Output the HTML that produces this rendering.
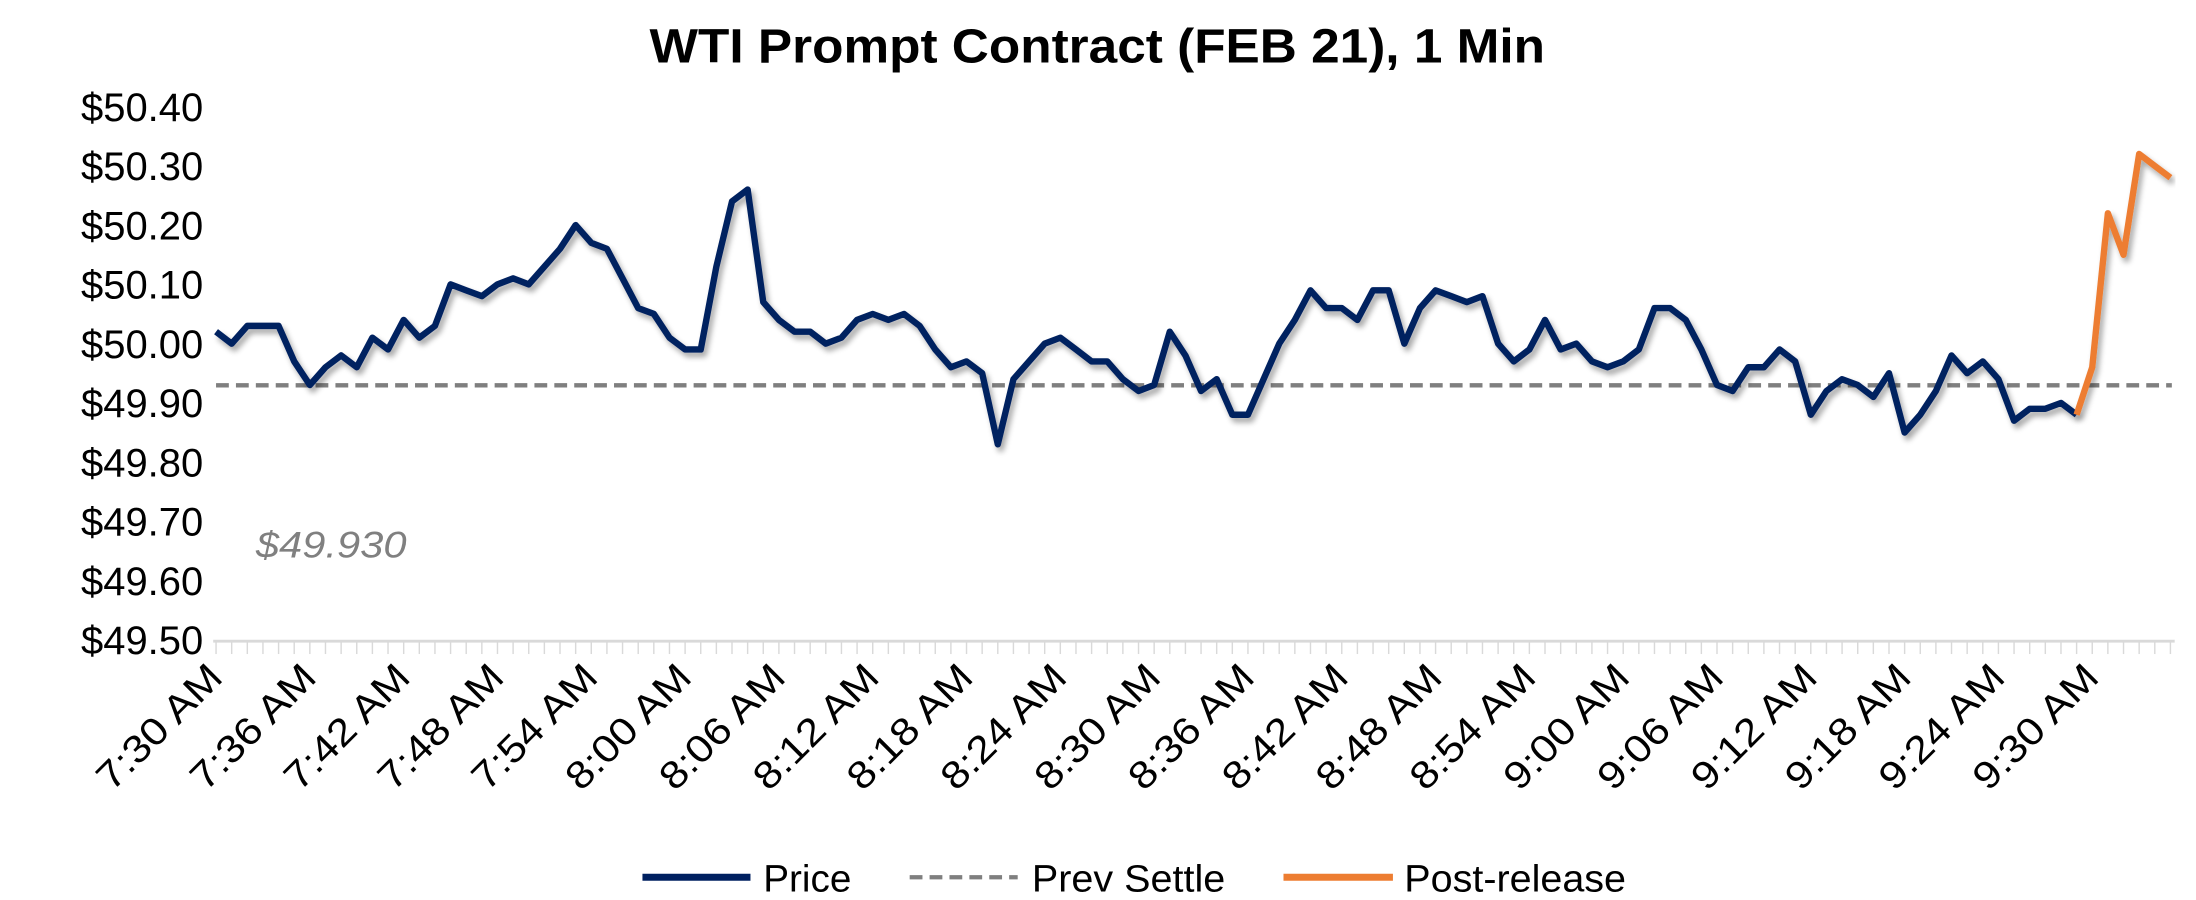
<!DOCTYPE html>
<html><head><meta charset="utf-8"><style>
html,body{margin:0;padding:0;background:#fff;}
svg{display:block;font-family:"Liberation Sans Narrow","Liberation Sans",sans-serif;}
</style></head><body>
<svg id="c" width="2196" height="900" viewBox="0 0 1545 633" preserveAspectRatio="none" xmlns="http://www.w3.org/2000/svg">
<defs><filter id="sh" x="-5%" y="-5%" width="110%" height="120%"><feGaussianBlur in="SourceAlpha" stdDeviation="2"/><feOffset dx="2" dy="3"/><feComponentTransfer><feFuncA type="linear" slope="0.35"/></feComponentTransfer><feMerge><feMergeNode/><feMergeNode in="SourceGraphic"/></feMerge></filter></defs>
<text x="772" y="44" text-anchor="middle" font-size="34" font-weight="bold" textLength="630" lengthAdjust="spacingAndGlyphs">WTI Prompt Contract (FEB 21), 1 Min</text>
<g id="yl" font-size="28" text-anchor="end" fill="#000"></g>
<line x1="150" y1="451" x2="1530" y2="451" stroke="#d9d9d9" stroke-width="2"/>
<g id="ticks" stroke="#d9d9d9" stroke-width="1"></g>
<g id="xl" font-size="27" fill="#000"></g>
<text x="180" y="392" font-size="26" font-style="italic" fill="#808080" textLength="106" lengthAdjust="spacingAndGlyphs">$49.930</text>
<line x1="152" y1="271" x2="1528" y2="271" stroke="#7f7f7f" stroke-width="3" stroke-dasharray="9,5"/>
<polyline id="p1" fill="none" stroke="#002060" stroke-width="4.5" stroke-linejoin="round" filter="url(#sh)"/>
<polyline id="p2" fill="none" stroke="#ED7D31" stroke-width="4.5" stroke-linejoin="round" filter="url(#sh)"/>
<line x1="452" y1="617" x2="528" y2="617" stroke="#002060" stroke-width="5"/>
<text x="537" y="627" font-size="27" textLength="62" lengthAdjust="spacingAndGlyphs">Price</text>
<line x1="640" y1="617" x2="716" y2="617" stroke="#7f7f7f" stroke-width="3" stroke-dasharray="9,5"/>
<text x="726" y="627" font-size="27" textLength="136" lengthAdjust="spacingAndGlyphs">Prev Settle</text>
<line x1="903" y1="617" x2="980" y2="617" stroke="#ED7D31" stroke-width="5"/>
<text x="988" y="627" font-size="27" textLength="156" lengthAdjust="spacingAndGlyphs">Post-release</text>
</svg>
<script>
var ns="http://www.w3.org/2000/svg";
function Y(v){return 75+(50.40-v)*416.7;}
function X(i){return 152+i*11;}
var yl=document.getElementById("yl");
for(var k=0;k<10;k++){var v=50.40-k*0.1;var t=document.createElementNS(ns,"text");t.setAttribute("x",143);t.setAttribute("y",Y(v)+10);t.setAttribute("textLength",86);t.setAttribute("lengthAdjust","spacingAndGlyphs");t.textContent="$"+v.toFixed(2);yl.appendChild(t);}
var tk=document.getElementById("ticks");
for(var i=0;i<=125;i++){var l=document.createElementNS(ns,"line");l.setAttribute("x1",X(i));l.setAttribute("x2",X(i));l.setAttribute("y1",451);l.setAttribute("y2",460);tk.appendChild(l);}
var labs=["7:30 AM","7:36 AM","7:42 AM","7:48 AM","7:54 AM","8:00 AM","8:06 AM","8:12 AM","8:18 AM","8:24 AM","8:30 AM","8:36 AM","8:42 AM","8:48 AM","8:54 AM","9:00 AM","9:06 AM","9:12 AM","9:18 AM","9:24 AM","9:30 AM"];
var xl=document.getElementById("xl");
for(var j=0;j<labs.length;j++){var x=X(j*6)+6,y=478;var t=document.createElementNS(ns,"text");t.setAttribute("x",x);t.setAttribute("y",y);t.setAttribute("text-anchor","end");t.setAttribute("textLength",112);t.setAttribute("lengthAdjust","spacingAndGlyphs");t.setAttribute("transform","rotate(-45 "+x+" "+y+")");t.textContent=labs[j];xl.appendChild(t);}
var d=[50.02,50.00,50.03,50.03,50.03,49.97,49.93,49.96,49.98,49.96,50.01,49.99,50.04,50.01,50.03,50.10,50.09,50.08,50.10,50.11,50.10,50.13,50.16,50.20,50.17,50.16,50.11,50.06,50.05,50.01,49.99,49.99,50.13,50.24,50.26,50.07,50.04,50.02,50.02,50.00,50.01,50.04,50.05,50.04,50.05,50.03,49.99,49.96,49.97,49.95,49.83,49.94,49.97,50.00,50.01,49.99,49.97,49.97,49.94,49.92,49.93,50.02,49.98,49.92,49.94,49.88,49.88,49.94,50.00,50.04,50.09,50.06,50.06,50.04,50.09,50.09,50.00,50.06,50.09,50.08,50.07,50.08,50.00,49.97,49.99,50.04,49.99,50.00,49.97,49.96,49.97,49.99,50.06,50.06,50.04,49.99,49.93,49.92,49.96,49.96,49.99,49.97,49.88,49.92,49.94,49.93,49.91,49.95,49.85,49.88,49.92,49.98,49.95,49.97,49.94,49.87,49.89,49.89,49.90,49.88];
var o=[49.88,49.96,50.22,50.15,50.32,50.30,50.28];
var s="";for(var i=0;i<d.length;i++)s+=X(i)+","+Y(d[i]).toFixed(1)+" ";
document.getElementById("p1").setAttribute("points",s);
s="";for(var i=0;i<o.length;i++)s+=X(119+i)+","+Y(o[i]).toFixed(1)+" ";
document.getElementById("p2").setAttribute("points",s);
</script>
</body></html>
